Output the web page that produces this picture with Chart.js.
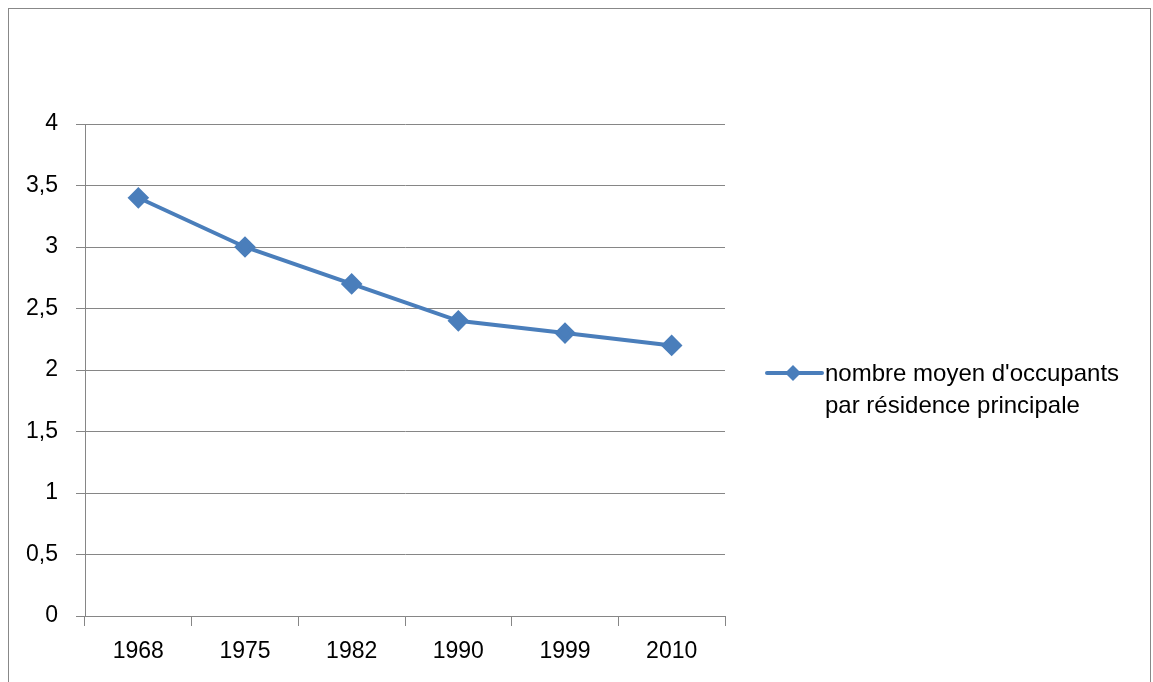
<!DOCTYPE html>
<html>
<head>
<meta charset="utf-8">
<script src="https://cdn.jsdelivr.net/npm/chart.js@4"></script>
<style>
  body { margin: 0; background: #fff; }
  #wrap { position: relative; width: 1153px; height: 682px; overflow: hidden; }
  #frame { position: absolute; left: 8px; top: 8px; width: 1141px; height: 700px; border: 1px solid #888; }
  #legend { position: absolute; left: 764px; top: 357px; font-family: "Liberation Sans", "Open Sans", sans-serif; font-size: 24px; color: #000; line-height: 32px; }
  #legend canvas { vertical-align: middle; }
  .lg-row { display: flex; align-items: center; }
</style>
</head>
<body>
<div id="wrap">
  <div id="frame"></div>
  <canvas id="myChart" width="1153" height="682"></canvas>
  <div id="legend">
    <div class="lg-row"><canvas id="lgMark" width="61" height="20"></canvas><span>nombre moyen d'occupants</span></div>
    <div style="padding-left:61px">par résidence principale</div>
  </div>
</div>
<script>
// données
const annees = ['1968', '1975', '1982', '1990', '1999', '2010']
const occupants = [3.4, 3.0, 2.7, 2.4, 2.3, 2.2]
const serieLabel = "nombre moyen d'occupants par résidence principale"

const bleu = '#4A7EBB'
const gris = '#868686'
const police = '"Liberation Sans", "Open Sans", sans-serif'

// symbole de légende
const lg = document.getElementById('lgMark').getContext('2d')
lg.strokeStyle = bleu
lg.lineWidth = 4
lg.lineCap = 'round'
lg.beginPath(); lg.moveTo(3, 10); lg.lineTo(58, 10); lg.stroke()
lg.fillStyle = bleu
lg.beginPath(); lg.moveTo(29, 2); lg.lineTo(37, 10); lg.lineTo(29, 18); lg.lineTo(21, 10); lg.closePath(); lg.fill()

const ctx = document.getElementById('myChart').getContext('2d')
const myChart = new Chart(ctx, {
  type: 'line',
  data: {
    labels: annees,
    datasets: [
      {
        label: serieLabel,
        data: occupants,
        borderColor: bleu,
        backgroundColor: bleu,
        borderWidth: 4,
        pointStyle: 'rectRot',
        pointRadius: 8,
        pointHoverRadius: 8,
        pointBackgroundColor: bleu,
        pointBorderColor: bleu,
        tension: 0,
      },
    ],
  },
  options: {
    responsive: false,
    animation: false,
    layout: { padding: { left: 0, top: 124, right: 1153 - 725, bottom: 0 } },
    plugins: { legend: { display: false }, tooltip: { enabled: false } },
    scales: {
      x: {
        offset: true,
        grid: { offset: true, drawOnChartArea: false, color: gris, tickLength: 10, lineWidth: 1 },
        border: { color: gris, width: 1 },
        ticks: { color: '#000', font: { family: police, size: 23 }, padding: 12, maxRotation: 0 },
        afterFit: (s) => { s.height = 682 - 616 },
      },
      y: {
        min: 0,
        max: 4,
        grid: { color: gris, tickLength: 9, lineWidth: 1 },
        border: { color: gris, width: 1 },
        ticks: {
          stepSize: 0.5,
          color: '#000',
          font: { family: police, size: 23 },
          padding: 18,
          callback: (v) => String(v).replace('.', ','),
        },
        afterFit: (s) => { s.width = 85 },
      },
    },
  },
})
</script>
</body>
</html>
